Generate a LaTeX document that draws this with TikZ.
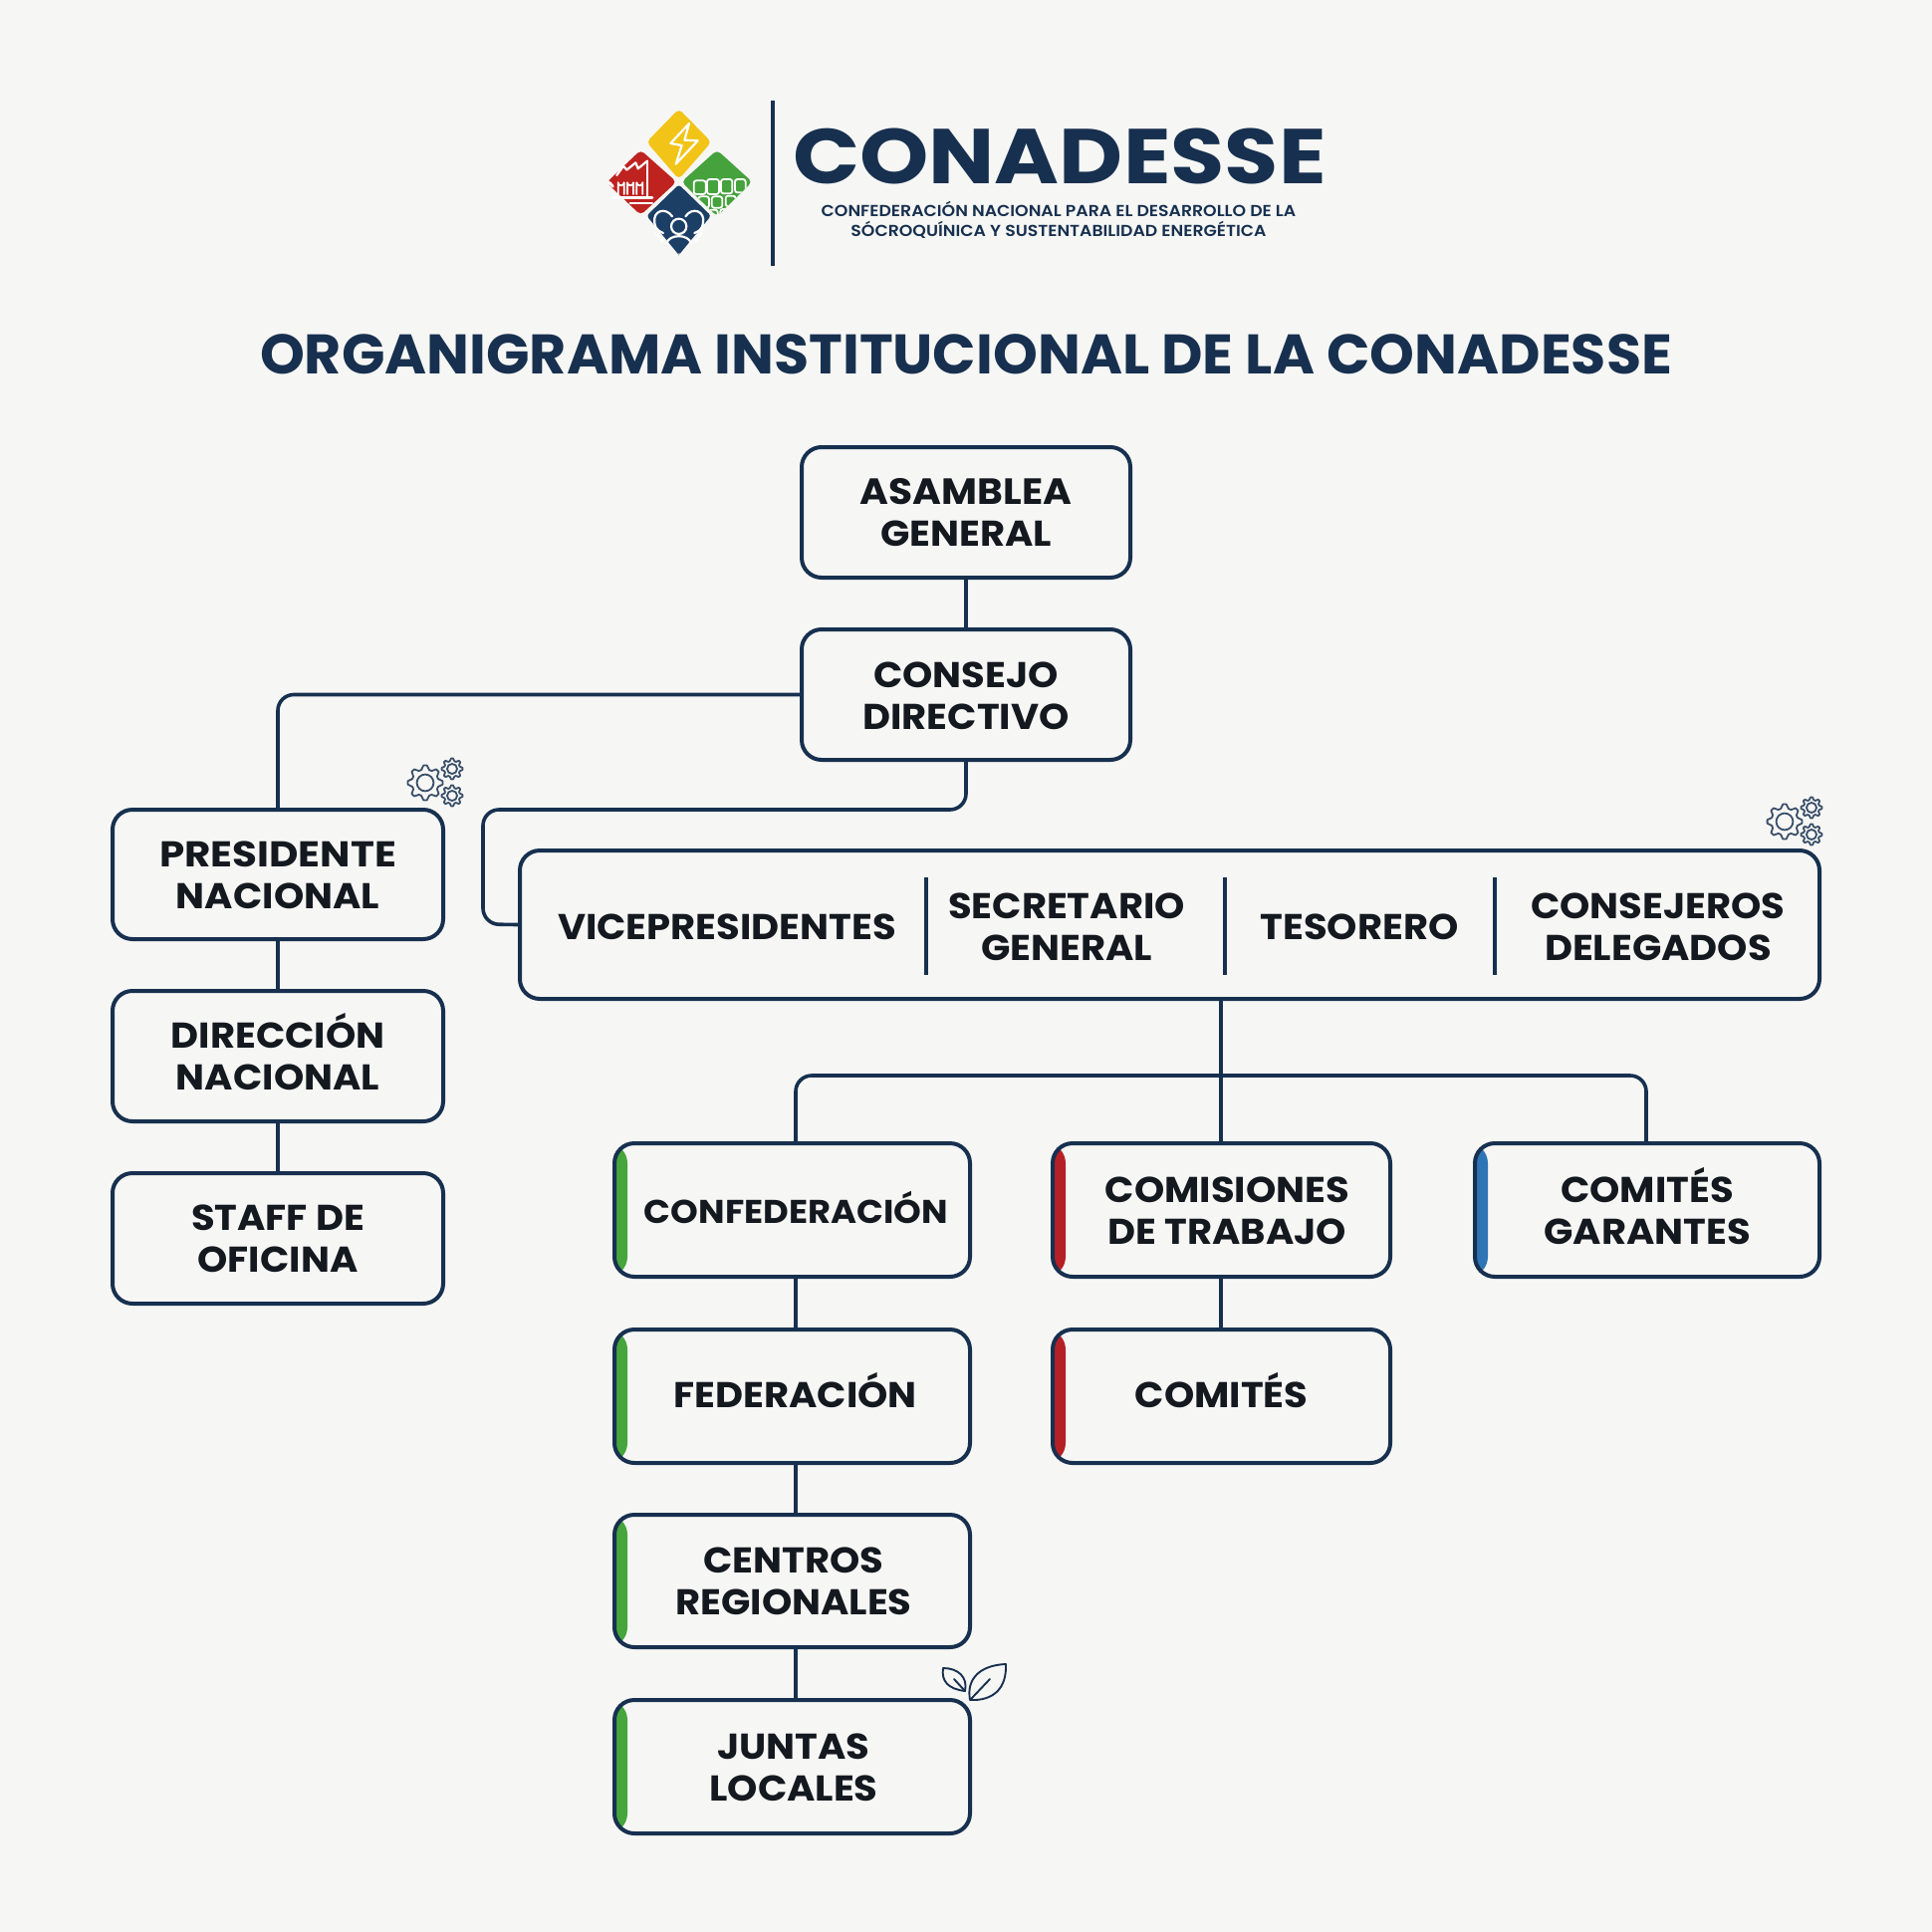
\documentclass[tikz,border=0pt]{standalone}
\usepackage{fontspec}
\setmainfont{Poppins}[BoldFont={* Bold}]
\newfontfamily\orgf{Poppins Bold}[FakeStretch=1.07]
\newfontfamily\brandf{Poppins Bold}[FakeStretch=1.13]
\newfontfamily\subf{Poppins SemiBold}[FakeStretch=1.08]
\newfontfamily\titlef{Poppins Bold}[FakeStretch=1.019]
\usetikzlibrary{calc}
\definecolor{bg}{HTML}{F6F6F4}
\definecolor{navy}{HTML}{17304F}
\definecolor{ink}{HTML}{14181F}
\definecolor{acgreen}{HTML}{46A53C}
\definecolor{acred}{HTML}{B52026}
\definecolor{acblue}{HTML}{2E75B6}
\definecolor{lgyellow}{HTML}{F2C417}
\definecolor{lggreen}{HTML}{45A23C}
\definecolor{lgred}{HTML}{BE2320}
\definecolor{lgblue}{HTML}{1C3F66}
\tikzset{
  orgbox/.style={draw=navy,line width=4pt,rounded corners=20pt,fill=bg,inner sep=0pt},
  cell/.style={inner sep=0pt,align=center,text=ink,font=\fontsize{36}{42}\selectfont\orgf},
  bar/.style={path picture={\fill[#1] (path picture bounding box.north west) rectangle ($(path picture bounding box.south west)+(13,0)$);}},
  link/.style={draw=navy,line width=3.6pt,rounded corners=16pt},
  gearline/.style={draw=navy!85,line width=1.8pt,line join=round},
  leafline/.style={draw=navy,line width=1.9pt,line join=round,line cap=round},
  logow/.style={draw=white,line width=2pt,line cap=round,line join=round},
}
% [box options]{name}{x1}{y1}{x2}{y2}{dx}{dy}{text}
\newcommand{\orgbx}[9][]{\node[orgbox,#1,minimum width={(#5)-(#3)},minimum height={(#6)-(#4)}] (#2) at ({((#3)+(#5))/2},{((#4)+(#6))/2}) {};
  \node[cell] (#2t) at ($(#2.center)+(#7,#8)$) {#9};}
\newcommand{\gearat}[6]{%
  \draw[gearline] plot[domain=0:{4*#5-1},samples={4*#5}] ({#1+(mod(round(\x),4)<2?#3:#4)*cos((\x-0.5)*90/#5+#6)},{#2+(mod(round(\x),4)<2?#3:#4)*sin((\x-0.5)*90/#5+#6)}) -- cycle;
  \draw[gearline] (#1,#2) circle ({0.48*#3});}
\begin{document}
\begin{tikzpicture}[x=1pt,y=-1pt]
\useasboundingbox (0,0) rectangle (1940,1940);
\fill[bg] (0,0) rectangle (1940,1940);

% logo
\begin{scope}[shift={(600,100)},x=0.3333pt,y=-0.3333pt]
\tikzset{dia/.style={rounded corners=4.5pt}}
\fill[lgyellow,dia] (245,28)--(343,128)--(245,240)--(148,128)--cycle;
\fill[lgred,dia] (130,152)--(238,248)--(130,348)--(27,250)--cycle;
\fill[lggreen,dia] (360,152)--(466,248)--(360,352)--(253,248)--cycle;
\fill[lgblue,rounded corners=3pt] (245,256)--(342,350)--(250,462)--(245,468)--(240,462)--(148,350)--cycle;
% bolt
\draw[logow,line width=2.2pt] (276,72)--(220,132)--(254,138)--(236,194)--(302,124)--(262,122)--cycle;
% factory
\draw[logow,line width=2.2pt] (150,185)--(150,295);
\draw[logow,line width=2.2pt] (150,185)--(122,208)--(115,190)--(88,212)--(78,200)--(58,228);
\foreach \xa in {62,90,118}{\draw[logow,line width=1.8pt] (\xa,285)--(\xa,250) arc[start angle=180,end angle=360,x radius=9,y radius=-9]--++(0,35);}
\draw[logow,line width=2.6pt] (45,296)--(165,296);
\draw[logow,line width=2.2pt] (98,312)--(165,312);
\draw[logow,line width=3pt] (36,250)--(46,262);
% solar cells
\begin{scope}
\clip (360,152)--(466,248)--(360,352)--(253,248)--cycle;
\foreach \cxa/\cya/\cxb/\cyb in {290/244/326/285,330/240/366/285,372/240/406/283,414/240/446/280,304/292/336/326,344/292/376/326,386/290/416/322,336/332/362/360,370/330/396/360}
  \draw[logow,line width=1.8pt,rounded corners=2.5pt] (\cxa,\cya) rectangle (\cxb,\cyb);
\end{scope}
% people
\draw[logow,line width=2.2pt] (245,382) circle (23);
\draw[logow,line width=2.2pt] (208,434) .. controls (214,404) and (276,404) .. (282,434);
\draw[logow,line width=2.2pt] (225,352) .. controls (205,322) and (165,335) .. (172,372) .. controls (175,395) and (190,398) .. (198,402);
\draw[logow,line width=2.2pt] (265,352) .. controls (285,322) and (325,335) .. (318,372) .. controls (315,395) and (300,398) .. (292,402);
\draw[logow,line width=2.2pt] (176,402)--(196,428);
\draw[logow,line width=2.2pt] (314,402)--(294,428);
\end{scope}
\coordinate (lgA) at (776,101);
\coordinate (lgB) at (776,267);
\draw[navy,line width=3.8pt] (lgA)--(lgB);
\node[text=navy,font=\fontsize{78}{80}\selectfont\brandf,inner sep=0pt] (brand) at (1064,157) {CONADESSE};
\node[text=navy,font=\fontsize{16}{20}\selectfont\subf,inner sep=0pt,align=center] (brandsub) at (1063,221) {CONFEDERACIÓN NACIONAL PARA EL DESARROLLO DE LA\\SÓCROQUÍNICA Y SUSTENTABILIDAD ENERGÉTICA};
\node[text=navy,font=\fontsize{56}{60}\selectfont\titlef,inner sep=0pt] (title) at (970,356) {ORGANIGRAMA INSTITUCIONAL DE LA CONADESSE};

% boxes
\orgbx{asamblea}{805}{449}{1135}{580}{0}{0}{{\fontsize{36.6}{42}\selectfont ASAMBLEA}\\GENERAL}
\orgbx{consejo}{805}{632}{1135}{763}{0}{1}{CONSEJO\\DIRECTIVO}
\orgbx{presidente}{113}{813}{445}{943}{0}{1}{\scalebox{1.05}[1]{PRESIDENTE}\\NACIONAL}
\orgbx{direccion}{113}{995}{445}{1126}{0}{-4}{DIRECCIÓN\\NACIONAL}
\orgbx{staff}{113}{1178}{445}{1309}{0}{0}{STAFF DE\\OFICINA}
\orgbx{bigbox}{522}{854}{1827}{1003}{0}{0}{}
\orgbx[bar=acgreen]{confed}{617}{1148}{974}{1282}{4}{-3}{{\fontsize{33}{38}\selectfont CONFEDERACIÓN}}
\orgbx[bar=acgreen]{feder}{617}{1335}{974}{1469}{3}{-6}{FEDERACIÓN}
\orgbx[bar=acgreen]{centros}{617}{1521}{974}{1654}{1.5}{0}{CENTROS\\REGIONALES}
\orgbx[bar=acgreen]{juntas}{617}{1707}{974}{1841}{1.5}{1}{JUNTAS\\LOCALES}
\orgbx[bar=acred]{comisiones}{1057}{1148}{1396}{1282}{6}{1}{COMISIONES\\DE TRABAJO}
\orgbx[bar=acred]{comites}{1057}{1335}{1396}{1469}{0}{-6}{COMITÉS}
\orgbx[bar=acblue]{garantes}{1481}{1148}{1827}{1282}{0}{-4}{COMITÉS\\GARANTES}
% cells of the wide box
\node[cell] (vice) at (730,931) {VICEPRESIDENTES};
\node[cell] (secre) at (1071,931) {SECRETARIO\\GENERAL};
\node[cell] (teso) at (1365,931) {TESORERO};
\node[cell] (conse) at (1665,931) {CONSEJEROS\\DELEGADOS};
\foreach \sx/\sn in {930/a,1230/b,1501/c}{
  \coordinate (sep\sn t) at (\sx,881);
  \coordinate (sep\sn b) at (\sx,979);
  \draw[navy,line width=3.2pt] (sep\sn t)--(sep\sn b);}

% connectors
\coordinate (bigdrop) at (1226,1003);
\coordinate (comtop) at (1226,1148);
\coordinate (confedtop) at (799,1148);
\coordinate (garantop) at (1653,1148);
\coordinate (confedlow) at (799,1282);
\coordinate (federup) at (799,1335);
\coordinate (federlow) at (799,1469);
\coordinate (centrosup) at (799,1521);
\coordinate (centroslow) at (799,1654);
\coordinate (juntasup) at (799,1707);
\coordinate (comislow) at (1226,1282);
\coordinate (comitesup) at (1226,1335);
\draw[link] (asamblea.south)--(consejo.north);
\draw[link] (consejo.west)-|(presidente.north);
\draw[link] (presidente.south)--(direccion.north);
\draw[link] (direccion.south)--(staff.north);
\draw[link] (consejo.south)--(970,813)--(485,813)--(485,928)--(bigbox.west);
\draw[link,rounded corners=0pt] (bigdrop)--(comtop);
\draw[link] (confedtop)--(799,1080)--(1653,1080)--(garantop);
\draw[link] (confedlow)--(federup);
\draw[link] (federlow)--(centrosup);
\draw[link] (centroslow)--(juntasup);
\draw[link] (comislow)--(comitesup);

% gears
\gearat{427}{786}{17.5}{13.5}{8}{0}
\gearat{454}{772}{10.5}{8}{8}{0}
\gearat{454}{799}{10.5}{8}{8}{0}
\gearat{1792}{825}{17.5}{13.5}{8}{0}
\gearat{1819}{811}{10.5}{8}{8}{0}
\gearat{1819}{838}{10.5}{8}{8}{0}

% leaves
\draw[leafline] (969,1698) .. controls (952,1696) and (945,1688) .. (947,1675) .. controls (962,1675) and (972,1684) .. cycle;
\draw[leafline] (958,1686)--(969,1698);
\draw[leafline] (974,1707) .. controls (970,1685) and (985,1672) .. (1010,1671) .. controls (1011,1695) and (998,1708) .. cycle;
\draw[leafline] (975,1706)--(994,1686);
\end{tikzpicture}
\end{document}
